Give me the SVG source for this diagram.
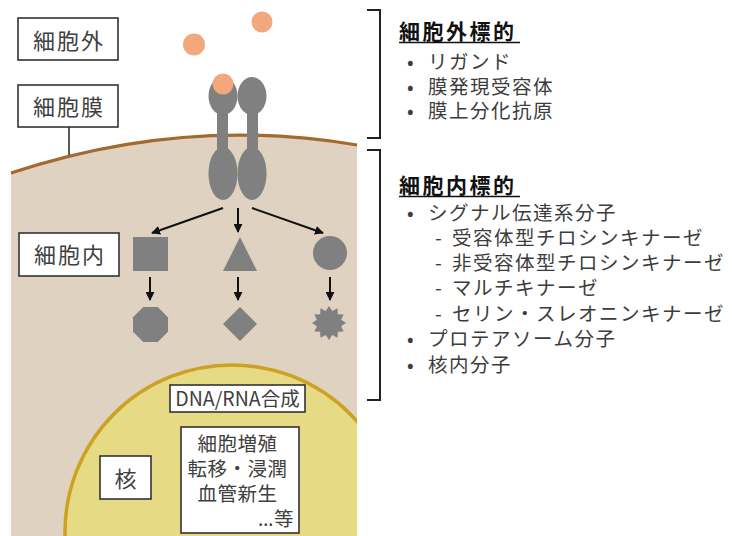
<svg xmlns="http://www.w3.org/2000/svg" width="732" height="536" viewBox="0 0 732 536">
  <style>
    text { font-family: "Noto Sans CJK JP", "Noto Sans", sans-serif; }
    .lbl { font-size: 22px; fill: #404040; letter-spacing: 2px; text-anchor: middle; }
    .nuc { font-size: 19.5px; fill: #404040; }
    .head { font-size: 21px; font-weight: bold; fill: #111; letter-spacing: 2.5px; }
    .body { font-size: 19.5px; fill: #3c3c3c; letter-spacing: 1.5px; }
    .latin { font-family: "Noto Sans", "Liberation Sans", sans-serif; }
    .box { fill: #fff; stroke: #333; stroke-width: 1.6; }
    .shape { fill: #808080; }
    .arrow { stroke: #111; stroke-width: 2; fill: none; marker-end: url(#ah); }
    .bracket { fill: none; stroke: #222; stroke-width: 2; }
  </style>
  <defs>
    <marker id="ah" viewBox="0 0 10 10" refX="9" refY="5" markerWidth="4.5" markerHeight="4.5" orient="auto">
      <path d="M0,0 L10,5 L0,10 Z" fill="#111"/>
    </marker>
    <clipPath id="cellClip">
      <rect x="11" y="0" width="346" height="536"/>
    </clipPath>
  </defs>

  <rect width="732" height="536" fill="#fff"/>

  <!-- cytoplasm and membrane -->
  <g id="cell">
    <path d="M11,173 Q184,115.6 357,145 L357,536 L11,536 Z" fill="#DFD2C1"/>
    <path d="M11,173 Q184,115.6 357,145" fill="none" stroke="#A3692F" stroke-width="3.2"/>
  </g>

  <!-- nucleus -->
  <g id="nucleus" clip-path="url(#cellClip)">
    <circle cx="232" cy="532" r="167" fill="#E6DA84" stroke="#CDA121" stroke-width="3.5"/>
  </g>

  <!-- receptor pair -->
  <g id="receptor" class="shape">
    <rect x="217" y="108" width="11" height="48"/>
    <rect x="247" y="108" width="11" height="48"/>
    <ellipse cx="223" cy="96" rx="14.5" ry="19"/>
    <ellipse cx="252" cy="96" rx="14.5" ry="19"/>
    <ellipse cx="223" cy="173.5" rx="14.5" ry="26.5"/>
    <ellipse cx="252" cy="173.5" rx="14.5" ry="26.5"/>
  </g>

  <!-- ligands -->
  <g id="ligands" fill="#F3A77C">
    <circle cx="194" cy="44.5" r="11"/>
    <circle cx="262" cy="22" r="10.5"/>
    <circle cx="223" cy="84" r="10.5"/>
  </g>

  <!-- signalling molecules -->
  <g id="sq" class="shape"><rect x="133" y="237" width="35" height="34"/></g>
  <g id="tri" class="shape"><polygon points="240,237 257,271 223,271"/></g>
  <g id="circ" class="shape"><circle cx="330" cy="253" r="17"/></g>
  <g id="oct" class="shape"><polygon points="143.25,307 157.75,307 168,317.25 168,331.75 157.75,342 143.25,342 133,331.75 133,317.25"/></g>
  <g id="dia" class="shape"><polygon points="240,307 257,324 240,341 223,324"/></g>
  <g id="star" class="shape"><polygon points="329,306 332.24,310.93 337.5,308.28 337.84,314.16 343.72,314.5 341.07,319.76 346,323 341.07,326.24 343.72,331.5 337.84,331.84 337.5,337.72 332.24,335.07 329,340 325.76,335.07 320.5,337.72 320.16,331.84 314.28,331.5 316.93,326.24 312,323 316.93,319.76 314.28,314.5 320.16,314.16 320.5,308.28 325.76,310.93"/></g>

  <!-- connectors -->
  <g id="connectors">
    <line class="arrow" x1="223" y1="208" x2="152" y2="233"/>
    <line class="arrow" x1="238" y1="208" x2="238" y2="232"/>
    <line class="arrow" x1="252" y1="208" x2="323" y2="233"/>
    <line class="arrow" x1="150" y1="277" x2="150" y2="300"/>
    <line class="arrow" x1="238" y1="277" x2="238" y2="300"/>
    <line class="arrow" x1="330" y1="277" x2="330" y2="300"/>
    <line x1="69" y1="127" x2="69" y2="155" stroke="#333" stroke-width="1.6"/>
  </g>

  <!-- region labels -->
  <g id="label-outside">
    <rect class="box" x="18" y="18" width="100" height="42"/>
    <text class="lbl" x="69" y="48.5">細胞外</text>
  </g>
  <g id="label-membrane">
    <rect class="box" x="18" y="85" width="100" height="42"/>
    <text class="lbl" x="69" y="114.5">細胞膜</text>
  </g>
  <g id="label-inside">
    <rect class="box" x="19" y="233" width="100" height="43"/>
    <text class="lbl" x="70" y="263">細胞内</text>
  </g>
  <g id="label-synthesis">
    <rect class="box" x="170" y="385" width="135" height="27"/>
    <text class="nuc" x="237.5" y="406" text-anchor="middle">DNA/RNA合成</text>
  </g>
  <g id="label-effects">
    <rect class="box" x="181" y="427" width="118" height="106"/>
    <text class="nuc" letter-spacing="0.5">
      <tspan x="240" y="450.5" text-anchor="middle">細胞増殖</tspan>
      <tspan x="240" y="475.5" text-anchor="middle">転移・浸潤</tspan>
      <tspan x="240" y="500.5" text-anchor="middle">血管新生</tspan>
      <tspan x="294" y="525.5" text-anchor="end"><tspan class="latin">…</tspan>等</tspan>
    </text>
  </g>
  <g id="label-nucleus">
    <rect class="box" x="100" y="456" width="51" height="43"/>
    <text class="lbl" x="126.5" y="486.5" letter-spacing="0">核</text>
  </g>

  <!-- target brackets -->
  <g id="brackets">
    <polyline class="bracket" points="367,10 380,10 380,138 367,138"/>
    <polyline class="bracket" points="367,150 380,150 380,400 367,400"/>
  </g>

  <!-- extracellular targets -->
  <g id="targets-extracellular">
    <text class="head" x="399" y="39">細胞外標的</text>
    <line x1="399" y1="42.5" x2="520" y2="42.5" stroke="#111" stroke-width="1.6"/>
    <text class="body">
      <tspan x="407" y="68.5">•</tspan><tspan x="428" y="68.5">リガンド</tspan>
      <tspan x="407" y="93.5">•</tspan><tspan x="428" y="93.5">膜発現受容体</tspan>
      <tspan x="407" y="117.5">•</tspan><tspan x="428" y="117.5">膜上分化抗原</tspan>
    </text>
  </g>

  <!-- intracellular targets -->
  <g id="targets-intracellular">
    <text class="head" x="399" y="193">細胞内標的</text>
    <line x1="399" y1="196.5" x2="520" y2="196.5" stroke="#111" stroke-width="1.6"/>
    <text class="body">
      <tspan x="407" y="219.5">•</tspan><tspan x="428" y="219.5">シグナル伝達系分子</tspan>
      <tspan x="435" y="245">-</tspan><tspan x="452" y="245">受容体型チロシンキナーゼ</tspan>
      <tspan x="435" y="270">-</tspan><tspan x="452" y="270">非受容体型チロシンキナーゼ</tspan>
      <tspan x="435" y="295">-</tspan><tspan x="452" y="295">マルチキナーゼ</tspan>
      <tspan x="435" y="320.5">-</tspan><tspan x="452" y="320.5">セリン・スレオニンキナーゼ</tspan>
      <tspan x="407" y="346">•</tspan><tspan x="428" y="346">プロテアソーム分子</tspan>
      <tspan x="407" y="372">•</tspan><tspan x="428" y="372">核内分子</tspan>
    </text>
  </g>
</svg>
